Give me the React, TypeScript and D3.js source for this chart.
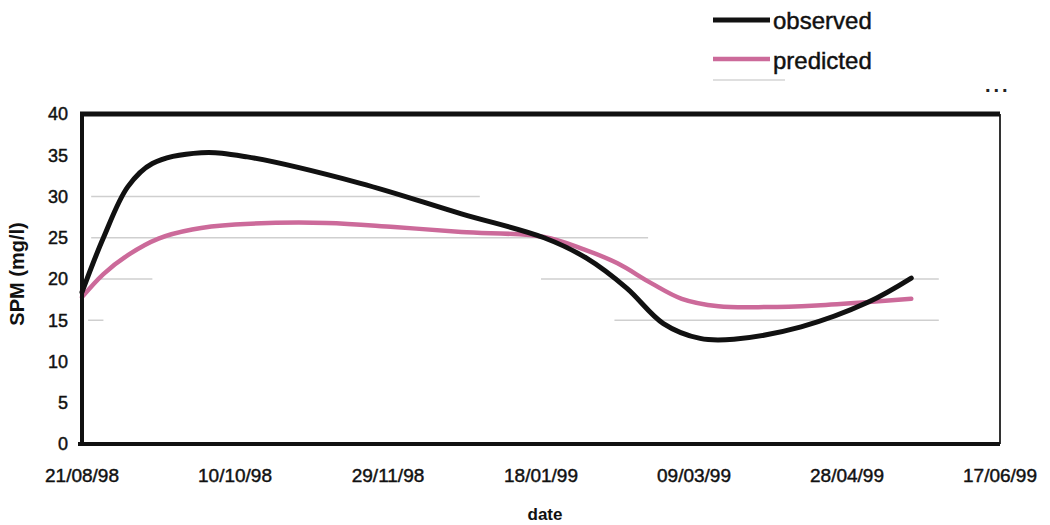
import React from 'react';
import * as d3 from 'd3';

const xTickLabels = ['21/08/98', '10/10/98', '29/11/98', '18/01/99', '09/03/99', '28/04/99', '17/06/99'];
const xTickDates = ['1998-08-21', '1998-10-10', '1998-11-29', '1999-01-18', '1999-03-09', '1999-04-28', '1999-06-17'];
const yTicks = [0, 5, 10, 15, 20, 25, 30, 35, 40];

const observedDates = [
  '1998-08-21', '1998-08-28', '1998-09-05', '1998-09-13', '1998-09-29',
  '1998-10-14', '1998-11-20', '1998-12-23',
  '1999-01-19', '1999-02-02', '1999-02-15', '1999-02-27', '1999-03-11',
  '1999-03-22', '1999-04-13', '1999-05-05', '1999-05-19',
];
const observedValues = [
  18.4, 25.0, 31.2, 34.0, 35.3,
  34.8, 31.6, 27.9,
  25.0, 22.5, 18.9, 14.6, 12.8,
  12.7, 14.2, 17.2, 20.1,
];

const predictedDates = [
  '1998-08-21', '1998-08-28', '1998-09-05', '1998-09-15', '1998-09-26', '1998-10-10',
  '1998-11-09', '1998-12-01', '1998-12-23', '1999-01-19', '1999-02-01', '1999-02-12',
  '1999-02-23', '1999-03-05', '1999-03-17', '1999-04-02', '1999-04-18', '1999-05-05', '1999-05-19',
];
const predictedValues = [
  17.8, 20.6, 22.9, 24.9, 26.0, 26.6,
  26.8, 26.3, 25.7, 25.1, 23.6, 21.9,
  19.5, 17.6, 16.7, 16.6, 16.8, 17.2, 17.6,
];

// faint (partial) gridline segments visible in the scan
const gridValues = [30, 25, 20, 20, 15, 15];
const gridFrom = ['1998-08-24', '1998-08-24', '1998-08-27', '1999-01-18', '1998-08-23', '1999-02-11'];
const gridTo = ['1998-12-29', '1999-02-22', '1998-09-13', '1999-05-28', '1998-08-28', '1999-05-28'];

const seriesNames = ['observed', 'predicted'];
const seriesColors = ['#111111', '#cc6a9a'];

const parse = d3.utcParse('%Y-%m-%d');

export default function App() {
  const left = 82, right = 1000, top = 114, bottom = 444;
  const x = d3.scaleUtc()
    .domain([parse(xTickDates[0])!, parse(xTickDates[xTickDates.length - 1])!])
    .range([left, right]);
  const y = d3.scaleLinear().domain([0, 40]).range([bottom, top]);

  const line = d3.line<[Date, number]>()
    .x(d => x(d[0]))
    .y(d => y(d[1]))
    .curve(d3.curveCatmullRom.alpha(0.5));

  const obs = observedDates.map((d, i) => [parse(d)!, observedValues[i]] as [Date, number]);
  const pred = predictedDates.map((d, i) => [parse(d)!, predictedValues[i]] as [Date, number]);

  const font = 'Liberation Sans, Arial, Helvetica, sans-serif';
  const textStroke = { stroke: '#111', strokeWidth: 0.45 };

  return (
    <svg width={1050} height={525} style={{ position: 'absolute', left: 0, top: 0, background: '#fff' }}
      fontFamily={font}>
      <rect x={0} y={0} width={1050} height={525} fill="#fff" />
      {/* legend */}
      <g>
        {seriesNames.map((n, i) => (
          <g key={n}>
            <line x1={713} x2={770} y1={20 + i * 39} y2={20 + i * 39} stroke={seriesColors[i]} strokeWidth={i === 0 ? 5 : 4.5} />
            <text x={773} y={29 + i * 40} fontSize={24} fill="#111" {...textStroke}>{n}</text>
          </g>
        ))}
        <line x1={713} x2={785} y1={80} y2={80} stroke="#d4d4d4" strokeWidth={1.5} />
        <text x={985} y={92} fontSize={20} letterSpacing={3} fill="#222" fontWeight="bold">...</text>
      </g>

      {/* faint gridline segments */}
      {gridValues.map((v, i) => (
        <line key={i} x1={x(parse(gridFrom[i])!)} x2={x(parse(gridTo[i])!)} y1={y(v)} y2={y(v)}
          stroke="#cfcfcf" strokeWidth={1.5} />
      ))}

      {/* series */}
      <path d={line(pred) ?? ''} fill="none" stroke={seriesColors[1]} strokeWidth={4.5} strokeLinecap="round" />
      <path d={line(obs) ?? ''} fill="none" stroke={seriesColors[0]} strokeWidth={5} strokeLinecap="round" />

      {/* frame */}
      <line x1={right} x2={right} y1={top} y2={bottom} stroke="#333" strokeWidth={2} />
      <line x1={left - 2} x2={right} y1={top} y2={top} stroke="#111" strokeWidth={5} />
      <line x1={left} x2={left} y1={top - 2} y2={bottom + 2} stroke="#111" strokeWidth={4} />
      <line x1={left - 4} x2={right} y1={bottom} y2={bottom} stroke="#111" strokeWidth={4} />

      {/* y ticks */}
      {yTicks.map(t => (
        <text key={t} x={68} y={y(t)} dy="0.36em" textAnchor="end" fontSize={18} fill="#111" {...textStroke}>{t}</text>
      ))}
      {/* x ticks */}
      {xTickDates.map((d, i) => (
        <text key={d} x={x(parse(d)!)} y={482} textAnchor="middle" fontSize={19} fill="#111" {...textStroke}>{xTickLabels[i]}</text>
      ))}

      <text x={545} y={520} textAnchor="middle" fontSize={17} fontWeight="bold" fill="#111">date</text>
      <text transform={`translate(24,274) rotate(-90)`} textAnchor="middle" fontSize={20} fontWeight="bold" fill="#111">SPM (mg/l)</text>
    </svg>
  );
}
